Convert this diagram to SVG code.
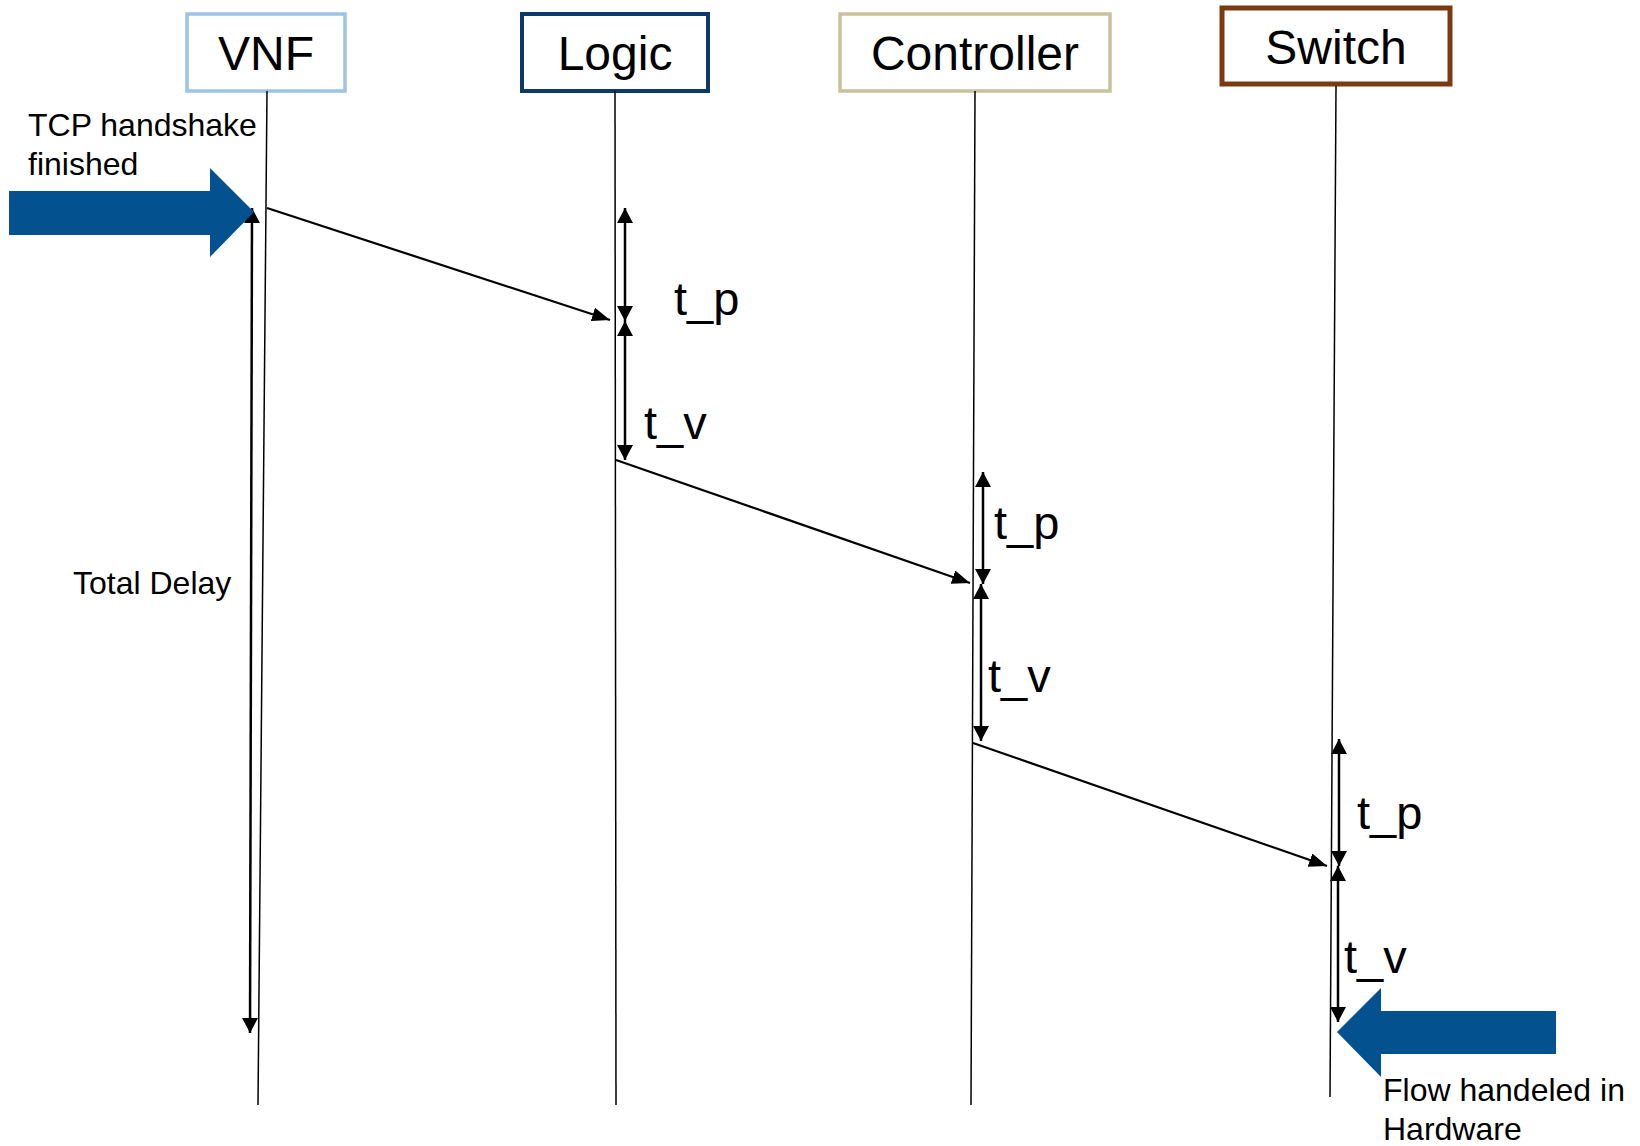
<svg xmlns="http://www.w3.org/2000/svg" width="1640" height="1146" viewBox="0 0 1640 1146">
<defs>
<marker id="ah" viewBox="0 0 15 16" refX="15" refY="8" markerWidth="15" markerHeight="16" markerUnits="userSpaceOnUse" orient="auto-start-reverse"><path d="M0,0 L15,8 L0,16 Z" fill="#000"/></marker>
<marker id="am" viewBox="0 0 18 14" refX="18" refY="7" markerWidth="18" markerHeight="14" markerUnits="userSpaceOnUse" orient="auto"><path d="M0,0 L18,7 L0,14 Z" fill="#000"/></marker>
</defs>
<style>
.box{fill:#fff}
.lbl{font-family:"Liberation Sans",Arial,sans-serif;font-size:48px;fill:#000;text-anchor:middle}
.t{font-family:"Liberation Sans",Arial,sans-serif;font-size:47px;fill:#000}
.s{font-family:"Liberation Sans",Arial,sans-serif;font-size:32px;fill:#000}
.life{stroke:#000;stroke-width:1.5;fill:none}
.msg{stroke:#000;stroke-width:2.2;fill:none;marker-end:url(#am)}
.dur{stroke:#000;stroke-width:2.5;fill:none;marker-start:url(#ah);marker-end:url(#ah)}
.big{fill:#03528F}
</style>
<rect width="1640" height="1146" fill="#fff"/>
<g id="node-vnf">
<rect class="box" x="187" y="14" width="158" height="77" stroke="#9DC3E6" stroke-width="3.5"/>
<text class="lbl" x="266" y="70">VNF</text>
</g>
<g id="node-logic">
<rect class="box" x="522" y="14" width="186" height="77" stroke="#0E3A6B" stroke-width="4"/>
<text class="lbl" x="615" y="70">Logic</text>
</g>
<g id="node-controller">
<rect class="box" x="840" y="14" width="270" height="77" stroke="#C9C29D" stroke-width="3.5"/>
<text class="lbl" x="975" y="70">Controller</text>
</g>
<g id="node-switch">
<rect class="box" x="1222" y="8" width="228" height="76" stroke="#7B3A12" stroke-width="5"/>
<text class="lbl" x="1336" y="64">Switch</text>
</g>
<g id="connectors">
<line class="life" x1="267" y1="91" x2="258" y2="1105"/>
<line class="life" x1="615" y1="91" x2="616" y2="1105"/>
<line class="life" x1="975" y1="91" x2="971" y2="1105"/>
<line class="life" x1="1336" y1="86" x2="1330" y2="1097"/>
<line class="msg" x1="267" y1="208" x2="610" y2="320"/>
<line class="msg" x1="616" y1="460" x2="970" y2="583"/>
<line class="msg" x1="973" y1="743" x2="1327" y2="866"/>
<line class="dur" x1="625" y1="208" x2="625" y2="321"/>
<line class="dur" x1="625" y1="321" x2="625" y2="460"/>
<line class="dur" x1="983" y1="472" x2="983" y2="584"/>
<line class="dur" x1="981" y1="584" x2="981" y2="741"/>
<line class="dur" x1="1339" y1="739" x2="1339" y2="866"/>
<line class="dur" x1="1338" y1="866" x2="1338" y2="1022"/>
<line class="dur" x1="252" y1="208" x2="250" y2="1033"/>
</g>
<g id="big-arrow-in">
<path class="big" d="M9,191 H210 V168 L254,212 L210,257 V235 H9 Z"/>
</g>
<g id="big-arrow-out">
<path class="big" d="M1556,1011 H1381 V988 L1337,1032 L1381,1077 V1054 H1556 Z"/>
</g>
<g id="labels">
<text class="s" x="28" y="136">TCP handshake</text>
<text class="s" x="28" y="175">finished</text>
<text class="s" x="73" y="594">Total Delay</text>
<text class="s" x="1383" y="1101">Flow handeled in</text>
<text class="s" x="1383" y="1140">Hardware</text>
<text class="t" x="674" y="315">t_p</text>
<text class="t" x="644" y="439">t_v</text>
<text class="t" x="994" y="539">t_p</text>
<text class="t" x="988" y="692">t_v</text>
<text class="t" x="1357" y="829">t_p</text>
<text class="t" x="1344" y="973">t_v</text>
</g>
</svg>
